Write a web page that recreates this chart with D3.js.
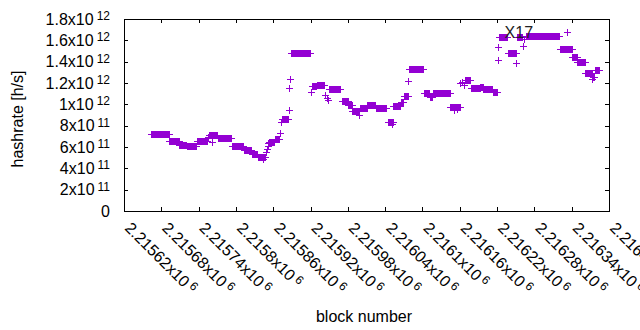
<!DOCTYPE html>
<html>
<head>
<meta charset="utf-8">
<script src="https://cdn.jsdelivr.net/npm/d3@7"></script>
<style>
  body { margin: 0; background: #fff; }
  text { font-family: "Liberation Sans", Arial, sans-serif; fill: #000; }
</style>
</head>
<body>
<div class="chart"></div>
<script>
// runs of blocks that share the same hashrate estimate
var runStart = [2215663, 2215693, 2215709, 2215721, 2215737, 2215757, 2215771, 2215793, 2215813, 2215826,
  2215835, 2215853, 2215863, 2215874, 2215889, 2215922, 2215930, 2215950, 2215970, 2215981,
  2215987, 2215999, 2216011, 2216025, 2216044, 2216053, 2216065, 2216070, 2216078, 2216102,
  2216112, 2216117, 2216145, 2216168, 2216178, 2216193, 2216198, 2216213, 2216223, 2216238,
  2216252, 2216266, 2216321, 2216341, 2216349, 2216362, 2216374, 2216377];
var runEnd = [2215692, 2215708, 2215720, 2215736, 2215753, 2215770, 2215792, 2215812, 2215825, 2215834,
  2215847, 2215862, 2215869, 2215883, 2215919, 2215929, 2215942, 2215968, 2215980, 2215986,
  2215998, 2216010, 2216024, 2216042, 2216052, 2216064, 2216069, 2216076, 2216101, 2216111,
  2216116, 2216144, 2216160, 2216177, 2216192, 2216197, 2216212, 2216220, 2216236, 2216250,
  2216260, 2216320, 2216340, 2216348, 2216361, 2216372, 2216376, 2216384];
var runHash = [7.2e11, 6.6e11, 6.2e11, 6.1e11, 6.55e11, 7.15e11, 6.85e11, 6.1e11, 5.7e11, 5.3e11,
  5.05e11, 6.45e11, 6.75e11, 8.6e11, 14.8e11, 11.75e11, 11.85e11, 11.4e11, 10.3e11, 9.9e11,
  9.4e11, 9.7e11, 9.95e11, 9.65e11, 8.35e11, 9.85e11, 10.25e11, 10.8e11, 13.3e11, 11.05e11,
  10.7e11, 11.1e11, 9.75e11, 12.3e11, 11.5e11, 11.6e11, 11.4e11, 11.2e11, 16.3e11, 14.8e11,
  16.3e11, 16.4e11, 15.2e11, 14.4e11, 14.0e11, 12.9e11, 12.6e11, 13.2e11];

// isolated blocks
var singleBlock = [2215755, 2215762, 2215844, 2215848, 2215850, 2215851, 2215852, 2215871, 2215872, 2215885,
  2215886, 2215887, 2215920, 2215944, 2215946, 2215948, 2215998, 2216051, 2216077, 2216150,
  2216156, 2216161, 2216164, 2216166, 2216221, 2216222, 2216251, 2216262, 2216264, 2216332, 2216373];
var singleHash = [6.9e11, 6.5e11, 4.9e11, 5.5e11, 5.8e11, 6.1e11, 6.4e11, 7.3e11, 8.3e11, 9.5e11,
  11.5e11, 12.4e11, 11.2e11, 10.9e11, 10.6e11, 10.4e11, 9.0e11, 8.15e11, 12.2e11, 9.5e11,
  9.6e11, 12.0e11, 12.1e11, 11.85e11, 14.2e11, 15.35e11, 13.85e11, 15.5e11, 16.1e11, 16.75e11, 12.4e11];

var xTicks = [2215620, 2215680, 2215740, 2215800, 2215860, 2215920, 2215980,
  2216040, 2216100, 2216160, 2216220, 2216280, 2216340, 2216400];
var yTicks = [0, 2e11, 4e11, 6e11, 8e11, 1e12, 1.2e12, 1.4e12, 1.6e12, 1.8e12];

var labelText = "X17";
var labelBlock = 2216255, labelHash = 1.68e12;

var svgWidth = 640, svgHeight = 330;
var margin = { top: 19, right: 31, bottom: 119, left: 124 };
var width = svgWidth - margin.left - margin.right;
var height = svgHeight - margin.top - margin.bottom;
var color = "#9400d3";

var svg = d3.select(".chart").append("svg")
  .attr("width", svgWidth)
  .attr("height", svgHeight);

var chart = svg.append("g")
  .attr("transform", "translate(" + margin.left + "," + margin.top + ")");

var xScale = d3.scaleLinear().domain([2215620, 2216400]).range([0, width]);
var yScale = d3.scaleLinear().domain([0, 1.8e12]).range([height, 0]);

// mantissa and exponent, gnuplot style "2.2158x10^6"
function splitSci(v) {
  if (v === 0) return null;
  var e = Math.floor(Math.log10(v));
  var m = +(v / Math.pow(10, e)).toFixed(6);
  return { m: String(m), e: String(e) };
}

// ticks pointing inward on all four sides
chart.append("g").attr("transform", "translate(0," + height + ")")
  .call(d3.axisBottom(xScale).tickValues(xTicks).tickSizeInner(-4).tickSizeOuter(0).tickFormat(""));
chart.append("g")
  .call(d3.axisTop(xScale).tickValues(xTicks).tickSizeInner(-4).tickSizeOuter(0).tickFormat(""));
chart.append("g")
  .call(d3.axisLeft(yScale).tickValues(yTicks).tickSizeInner(-4).tickSizeOuter(0).tickFormat(""));
chart.append("g").attr("transform", "translate(" + width + ",0)")
  .call(d3.axisRight(yScale).tickValues(yTicks).tickSizeInner(-4).tickSizeOuter(0).tickFormat(""));
chart.selectAll(".domain").remove();
chart.selectAll(".tick line").attr("stroke", "#000").attr("shape-rendering", "crispEdges");

chart.append("rect")
  .attr("x", 0).attr("y", 0)
  .attr("width", width).attr("height", height)
  .attr("fill", "none").attr("stroke", "#000")
  .attr("shape-rendering", "crispEdges");

// y tick labels
var yLab = chart.selectAll(".ylab").data(yTicks).enter().append("text")
  .attr("class", "ylab")
  .attr("x", -14)
  .attr("y", function(d) { return yScale(d); })
  .attr("dy", "0.36em")
  .attr("text-anchor", "end")
  .style("font-size", "16px");
yLab.each(function(d) {
  var t = d3.select(this), s = splitSci(d);
  if (!s) { t.text("0"); return; }
  t.append("tspan").text(s.m + "x10");
  t.append("tspan").attr("dx", 3).attr("dy", "-0.4em").style("font-size", "12px").text(s.e);
});

// x tick labels, rotated
var xLab = chart.selectAll(".xlab").data(xTicks).enter().append("text")
  .attr("class", "xlab")
  .attr("transform", function(d) { return "translate(" + xScale(d) + "," + (height + 18) + ") rotate(45)"; })
  .attr("text-anchor", "start")
  .style("font-size", "16px");
xLab.each(function(d) {
  var t = d3.select(this), s = splitSci(d);
  t.append("tspan").text(s.m + "x10");
  t.append("tspan").attr("dx", 3).attr("dy", "-0.4em").style("font-size", "12px").text(s.e);
});

// points: one "+" per block
var points = [];
runStart.forEach(function(s, i) {
  for (var b = s; b <= runEnd[i]; b++) points.push([b, runHash[i]]);
});
singleBlock.forEach(function(b, i) { points.push([b, singleHash[i]]); });

chart.selectAll(".pt").data(points).enter().append("path")
  .attr("class", "pt")
  .attr("d", function(d) {
    var px = Math.round(xScale(d[0])) + 0.5, py = Math.round(yScale(d[1])) + 0.5;
    return "M" + (px - 3.5) + "," + py + "H" + (px + 3.5) + "M" + px + "," + (py - 3.5) + "V" + (py + 3.5);
  })
  .attr("stroke", color)
  .attr("stroke-width", 1)
  .attr("fill", "none");

chart.append("text")
  .attr("x", xScale(labelBlock))
  .attr("y", yScale(labelHash))
  .attr("dy", "0.36em")
  .attr("text-anchor", "middle")
  .style("font-size", "16px")
  .style("fill", "#222")
  .text(labelText);

// axis titles
svg.append("text")
  .attr("transform", "translate(17,119) rotate(-90)")
  .attr("dy", "0.36em")
  .attr("text-anchor", "middle")
  .style("font-size", "16px")
  .text("hashrate [h/s]");

svg.append("text")
  .attr("x", 364).attr("y", 316)
  .attr("dy", "0.36em")
  .attr("text-anchor", "middle")
  .style("font-size", "16px")
  .text("block number");
</script>
</body>
</html>
